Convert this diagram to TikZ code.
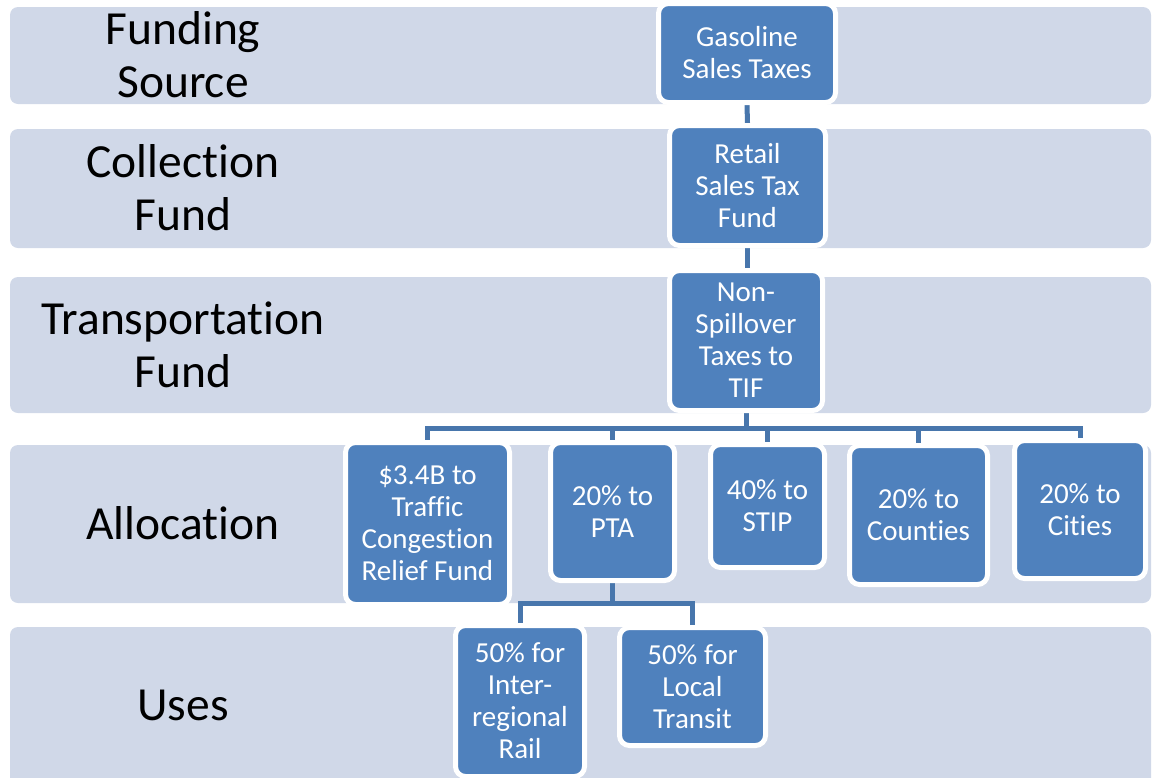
\documentclass[tikz,border=0pt]{standalone}
\usepackage{fontspec}
\setmainfont[Ligatures=CommonOff]{Carlito}
\definecolor{tierfill}{RGB}{208,216,232}
\definecolor{boxfill}{RGB}{79,129,189}
\definecolor{linkcol}{RGB}{72,118,172}
\pgfdeclarelayer{back}
\pgfdeclarelayer{links}
\pgfsetlayers{back,links,main}
\tikzset{
 tier/.style={fill=tierfill,rounded corners=8pt},
 tierlabel/.style={align=center,font=\fontsize{47.5}{53}\selectfont},
 fundbox/.style={draw=white,line width=5pt,fill=boxfill,rounded corners=10pt,text=white,align=center,inner sep=0pt,font=\fontsize{29}{32}\selectfont},
 link/.style={draw=linkcol,line width=5pt}
}
\begin{document}
\begin{tikzpicture}[x=1pt,y=-1pt]
 \clip (0,0) rectangle (1152,777);
 \begin{pgfonlayer}{back}
 \fill[tier](10,7) rectangle (1151,104);
 \fill[tier](10,129) rectangle (1151,248);
 \fill[tier](10,277) rectangle (1151,413);
 \fill[tier](10,445) rectangle (1151,603);
 \fill[tier](10,627) rectangle (1151,790);
 \end{pgfonlayer}
 \node[tierlabel] (lsource) at (183,55) {Funding\\Source};
 \node[tierlabel] (lcollect) at (183,188) {Collection\\Fund};
 \node[tierlabel] (ltransp) at (183,345) {Transportation\\Fund};
 \node[tierlabel] (lalloc) at (183,523) {Allocation};
 \node[tierlabel] (luses) at (183,705) {Uses};
 \node[fundbox,minimum width=177pt,minimum height=99pt] (gas) at (747,53) {Gasoline\\Sales Taxes};
 \node[fundbox,minimum width=156pt,minimum height=120pt] (retail) at (747.5,185.5) {Retail\\Sales Tax\\Fund};
 \node[fundbox,minimum width=153pt,minimum height=140pt] (nonsp) at (746,340.5) {Non-\\Spillover\\Taxes to\\TIF};
 \node[fundbox,minimum width=164pt,minimum height=162pt] (ctrf) at (427.5,523.5) {\$3.4B to\\Traffic\\Congestion\\Relief Fund};
 \node[fundbox,minimum width=124pt,minimum height=138pt] (pta) at (612.5,511.5) {20\% to\\PTA};
 \node[fundbox,minimum width=114pt,minimum height=123pt] (stip) at (767.5,506) {40\% to\\STIP};
 \node[fundbox,minimum width=138pt,minimum height=139pt] (counties) at (918.5,515) {20\% to\\Counties};
 \node[fundbox,minimum width=131pt,minimum height=138pt] (cities) at (1080,509.5) {20\% to\\Cities};
 \node[fundbox,minimum width=129pt,minimum height=151pt] (rail) at (520,701) {50\% for\\Inter-\\regional\\Rail};
 \node[fundbox,minimum width=146pt,minimum height=118pt] (local) at (692.5,686.5) {50\% for\\Local\\Transit};
 \begin{pgfonlayer}{links}
 \draw[link](gas.south)--(retail.north);
 \draw[link](retail.south)--(retail.south|-nonsp.north);
 \foreach \t in {ctrf,pta,stip,counties,cities}
  \draw[link](nonsp.south)--++(0,15)-|(\t.north);
 \foreach \t in {rail,local}
  \draw[link](pta.south)--++(0,20)-|(\t.north);
 \end{pgfonlayer}
\end{tikzpicture}
\end{document}
